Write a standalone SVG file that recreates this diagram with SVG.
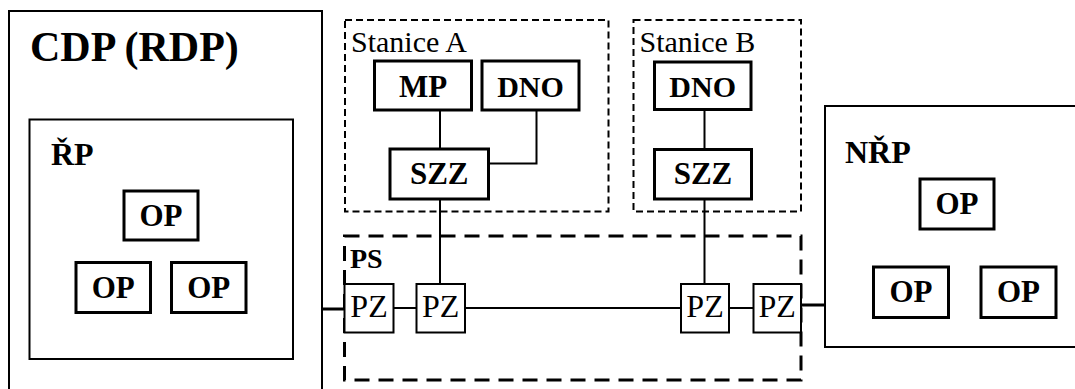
<svg xmlns="http://www.w3.org/2000/svg" width="1075" height="389" viewBox="0 0 1075 389">
<rect width="1075" height="389" fill="#fff"/>
<g id="cdp">
<rect x="9" y="11" width="313" height="390" fill="#fff" stroke="#000" stroke-width="2"/>
<text x="30" y="61" font-size="42" font-weight="bold" font-family="Times New Roman, Liberation Serif, serif">CDP (RDP)</text>
</g>
<g id="rp">
<rect x="29.5" y="119.5" width="263.5" height="239.5" fill="#fff" stroke="#000" stroke-width="2"/>
<text x="51" y="165" font-size="32" font-weight="bold" font-family="Times New Roman, Liberation Serif, serif">ŘP</text>
</g>
<g id="rp-op1"><rect x="124" y="191" width="74" height="49" fill="#fff" stroke="#000" stroke-width="3"/><text text-anchor="middle" x="161" y="225.5" font-size="31" font-weight="bold" font-family="Times New Roman, Liberation Serif, serif">OP</text></g>
<g id="rp-op2"><rect x="76" y="262.5" width="74.5" height="50" fill="#fff" stroke="#000" stroke-width="3"/><text text-anchor="middle" x="113.2" y="297.5" font-size="31" font-weight="bold" font-family="Times New Roman, Liberation Serif, serif">OP</text></g>
<g id="rp-op3"><rect x="171.5" y="262.5" width="74.5" height="50" fill="#fff" stroke="#000" stroke-width="3"/><text text-anchor="middle" x="208.7" y="297.5" font-size="31" font-weight="bold" font-family="Times New Roman, Liberation Serif, serif">OP</text></g>
<g id="stanice-a">
<rect x="345" y="20" width="263.5" height="191.5" fill="none" stroke="#000" stroke-width="2" stroke-dasharray="7 4"/>
<text x="351" y="52" font-size="30" font-family="Times New Roman, Liberation Serif, serif">Stanice A</text>
</g>
<g id="stanice-b">
<rect x="633.5" y="20" width="167.5" height="191.5" fill="none" stroke="#000" stroke-width="2" stroke-dasharray="7 4"/>
<text x="639.5" y="52" font-size="30" font-family="Times New Roman, Liberation Serif, serif">Stanice B</text>
</g>
<g id="ps">
<rect x="344.5" y="236" width="456.5" height="144" fill="none" stroke="#000" stroke-width="3" stroke-dasharray="15 9"/>
<text x="350" y="268" font-size="28" font-weight="bold" font-family="Times New Roman, Liberation Serif, serif">PS</text>
</g>
<g id="nrp">
<rect x="825" y="106" width="260" height="241" fill="#fff" stroke="#000" stroke-width="2"/>
<text x="845" y="163" font-size="32" font-weight="bold" font-family="Times New Roman, Liberation Serif, serif">NŘP</text>
</g>
<g id="nrp-op1"><rect x="920" y="179" width="74" height="50" fill="#fff" stroke="#000" stroke-width="3"/><text text-anchor="middle" x="957" y="214" font-size="31" font-weight="bold" font-family="Times New Roman, Liberation Serif, serif">OP</text></g>
<g id="nrp-op2"><rect x="873.5" y="267" width="75" height="50.5" fill="#fff" stroke="#000" stroke-width="3"/><text text-anchor="middle" x="911" y="302" font-size="31" font-weight="bold" font-family="Times New Roman, Liberation Serif, serif">OP</text></g>
<g id="nrp-op3"><rect x="981" y="267" width="75" height="50.5" fill="#fff" stroke="#000" stroke-width="3"/><text text-anchor="middle" x="1018.5" y="302" font-size="31" font-weight="bold" font-family="Times New Roman, Liberation Serif, serif">OP</text></g>
<g id="connectors" fill="none" stroke="#000" stroke-width="2">
<line x1="440" y1="110" x2="440" y2="149"/>
<polyline points="536.5,110 536.5,163.5 488.5,163.5"/>
<line x1="440" y1="199" x2="440" y2="284"/>
<line x1="704.5" y1="109.5" x2="704.5" y2="149.5"/>
<line x1="704.5" y1="199" x2="704.5" y2="284"/>
<line x1="393.5" y1="308" x2="416.5" y2="308"/>
<line x1="465" y1="308" x2="681" y2="308"/>
<line x1="729" y1="308" x2="753.5" y2="308"/>
<line x1="322" y1="309" x2="344.5" y2="309" stroke-width="3"/>
<line x1="801" y1="305" x2="825" y2="305" stroke-width="3"/>
</g>
<g id="mp"><rect x="374.5" y="61" width="97" height="49" fill="#fff" stroke="#000" stroke-width="3"/><text text-anchor="middle" x="423" y="96.5" font-size="31" font-weight="bold" font-family="Times New Roman, Liberation Serif, serif">MP</text></g>
<g id="dno-a"><rect x="482" y="61" width="97" height="49" fill="#fff" stroke="#000" stroke-width="3"/><text text-anchor="middle" x="530.5" y="96.5" font-size="30" font-weight="bold" font-family="Times New Roman, Liberation Serif, serif">DNO</text></g>
<g id="szz-a"><rect x="390" y="149" width="98.5" height="50" fill="#fff" stroke="#000" stroke-width="3"/><text text-anchor="middle" x="439.2" y="183.5" font-size="31" font-weight="bold" font-family="Times New Roman, Liberation Serif, serif">SZZ</text></g>
<g id="dno-b"><rect x="654.5" y="62" width="96.5" height="47.5" fill="#fff" stroke="#000" stroke-width="3"/><text text-anchor="middle" x="702.7" y="96.5" font-size="30" font-weight="bold" font-family="Times New Roman, Liberation Serif, serif">DNO</text></g>
<g id="szz-b"><rect x="654.5" y="149.5" width="97" height="49.5" fill="#fff" stroke="#000" stroke-width="3"/><text text-anchor="middle" x="703" y="183.5" font-size="31" font-weight="bold" font-family="Times New Roman, Liberation Serif, serif">SZZ</text></g>
<g id="pz1"><rect x="344.5" y="284" width="49" height="48.5" fill="#fff" stroke="#000" stroke-width="2"/><text text-anchor="middle" x="369" y="317" font-size="32" font-family="Times New Roman, Liberation Serif, serif">PZ</text></g>
<g id="pz2"><rect x="416.5" y="284" width="48.5" height="48.5" fill="#fff" stroke="#000" stroke-width="2"/><text text-anchor="middle" x="440.7" y="317" font-size="32" font-family="Times New Roman, Liberation Serif, serif">PZ</text></g>
<g id="pz3"><rect x="681" y="284" width="48" height="48.5" fill="#fff" stroke="#000" stroke-width="2"/><text text-anchor="middle" x="705" y="317" font-size="32" font-family="Times New Roman, Liberation Serif, serif">PZ</text></g>
<g id="pz4"><rect x="753.5" y="284" width="47.5" height="48.5" fill="#fff" stroke="#000" stroke-width="2"/><text text-anchor="middle" x="777.2" y="317" font-size="32" font-family="Times New Roman, Liberation Serif, serif">PZ</text></g>
</svg>
